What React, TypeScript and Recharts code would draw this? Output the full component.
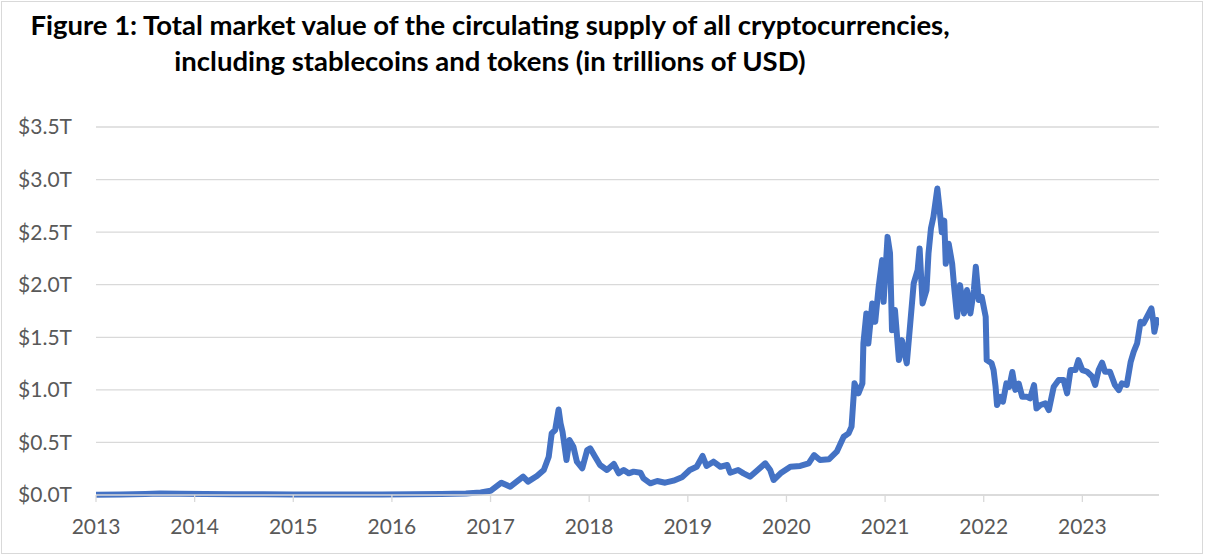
import React from "react";
import { CartesianGrid, Line, LineChart, XAxis, YAxis } from "recharts";

// position on the time axis, in years (as drawn against the year ticks)
const years = [
  2013.0, 2013.25, 2013.5, 2013.65, 2013.85, 2014.1, 2014.4, 2014.7, 2015.0, 2015.3,
  2015.6, 2015.9, 2016.2, 2016.5, 2016.75, 2016.9, 2017.0, 2017.11, 2017.2, 2017.33,
  2017.38, 2017.47, 2017.54, 2017.59, 2017.62, 2017.655, 2017.69, 2017.71, 2017.73, 2017.77,
  2017.8, 2017.84, 2017.875, 2017.93, 2017.98, 2018.01, 2018.06, 2018.11, 2018.18, 2018.25,
  2018.3, 2018.35, 2018.4, 2018.45, 2018.52, 2018.55, 2018.62, 2018.69, 2018.77, 2018.855,
  2018.94, 2019.02, 2019.09, 2019.15, 2019.19, 2019.26, 2019.33, 2019.4, 2019.43, 2019.51,
  2019.565, 2019.63, 2019.7, 2019.785, 2019.835, 2019.87, 2019.94, 2020.04, 2020.14, 2020.225,
  2020.28, 2020.34, 2020.43, 2020.51, 2020.58, 2020.63, 2020.66, 2020.69, 2020.73, 2020.77,
  2020.78, 2020.81, 2020.83, 2020.87, 2020.9, 2020.935, 2020.97, 2020.985, 2021.025, 2021.05,
  2021.07, 2021.1, 2021.14, 2021.17, 2021.22, 2021.255, 2021.29, 2021.33, 2021.35, 2021.38,
  2021.42, 2021.44, 2021.465, 2021.49, 2021.53, 2021.55, 2021.575, 2021.6, 2021.615, 2021.645,
  2021.68, 2021.7, 2021.73, 2021.76, 2021.8, 2021.83, 2021.865, 2021.9, 2021.92, 2021.95,
  2021.98, 2022.02, 2022.03, 2022.08, 2022.1, 2022.12, 2022.135, 2022.17, 2022.195, 2022.23,
  2022.26, 2022.29, 2022.32, 2022.355, 2022.39, 2022.44, 2022.47, 2022.51, 2022.535, 2022.575,
  2022.625, 2022.66, 2022.71, 2022.76, 2022.81, 2022.845, 2022.88, 2022.93, 2022.96, 2023.0,
  2023.05, 2023.1, 2023.13, 2023.165, 2023.2, 2023.23, 2023.28, 2023.33, 2023.37, 2023.4,
  2023.45, 2023.49, 2023.52, 2023.555, 2023.59, 2023.62, 2023.655, 2023.7, 2023.72, 2023.73,
  2023.755, 2023.775,
];

// total market value, trillions of USD
const marketCap = [
  0.003, 0.004, 0.01, 0.014, 0.012, 0.01, 0.008, 0.007, 0.005, 0.004,
  0.004, 0.005, 0.007, 0.01, 0.014, 0.025, 0.04, 0.117, 0.079, 0.174,
  0.127, 0.18, 0.238, 0.364, 0.586, 0.618, 0.814, 0.68, 0.6, 0.333,
  0.523, 0.459, 0.317, 0.254, 0.428, 0.444, 0.364, 0.285, 0.238, 0.295,
  0.206, 0.238, 0.206, 0.222, 0.212, 0.158, 0.111, 0.133, 0.117, 0.136,
  0.168, 0.238, 0.269, 0.371, 0.276, 0.317, 0.269, 0.285, 0.212, 0.238,
  0.206, 0.174, 0.231, 0.301, 0.238, 0.143, 0.206, 0.269, 0.276, 0.301,
  0.38, 0.333, 0.339, 0.412, 0.554, 0.586, 0.65, 1.062, 0.967, 1.062,
  1.44, 1.727, 1.44, 1.822, 1.647, 1.98, 2.234, 1.837, 2.455, 2.3,
  1.568, 1.759, 1.283, 1.473, 1.252, 1.632, 2.012, 2.139, 2.345, 1.822,
  1.949, 2.297, 2.535, 2.645, 2.915, 2.74, 2.5, 2.61, 2.2, 2.39,
  2.2, 1.98, 1.695, 1.996, 1.727, 1.949, 1.727, 1.949, 2.17, 1.854,
  1.885, 1.695, 1.283, 1.252, 1.188, 1.03, 0.856, 0.934, 0.887, 1.062,
  1.03, 1.17, 1.0, 1.06, 0.934, 0.934, 0.919, 1.046, 0.824, 0.856,
  0.872, 0.808, 1.03, 1.093, 1.093, 0.967, 1.188, 1.188, 1.283, 1.188,
  1.172, 1.125, 1.046, 1.188, 1.258, 1.172, 1.172, 1.046, 0.998, 1.062,
  1.046, 1.267, 1.362, 1.442, 1.647, 1.632, 1.695, 1.775, 1.647, 1.552,
  1.664, 1.647,
];

const yearTicks = [2013, 2014, 2015, 2016, 2017, 2018, 2019, 2020, 2021, 2022, 2023];
const valueTicks = [0, 0.5, 1, 1.5, 2, 2.5, 3, 3.5];

const titleLines = [
  "Figure 1: Total market value of the circulating supply of all cryptocurrencies,",
  "including stablecoins and tokens (in trillions of USD)",
];

const data = years.map((t, i) => ({ t, v: marketCap[i] }));

const axisFont = { fontFamily: "Lato, sans-serif", fontSize: 21, fill: "#595959" };

export default function App() {
  return (
    <div
      style={{
        position: "absolute",
        left: 0,
        top: 0,
        width: 1212,
        height: 555,
        background: "#fff",
      }}
    >
      <div
        style={{
          position: "absolute",
          left: 1,
          top: 1,
          width: 1200,
          height: 551,
          border: "1px solid #d9d9d9",
        }}
      />
      <div
        style={{
          position: "absolute",
          left: 0,
          top: 7,
          width: 980,
          textAlign: "center",
          fontFamily: "Lato, sans-serif",
          fontWeight: 700,
          fontSize: 27.5,
          lineHeight: "36px",
          color: "#000",
          whiteSpace: "nowrap",
        }}
      >
        {titleLines.map((l) => (
          <div key={l}>{l}</div>
        ))}
      </div>
      <div style={{ position: "absolute", left: 0, top: 0 }}>
        <LineChart
          width={1212}
          height={555}
          data={data}
          margin={{ top: 127, right: 53, bottom: 30, left: 8 }}
        >
          <CartesianGrid vertical={false} stroke="#d9d9d9" strokeWidth={1.3} />
          <XAxis
            dataKey="t"
            type="number"
            domain={[2013, 2023.777]}
            ticks={yearTicks}
            allowDataOverflow
            height={30}
            tick={axisFont}
            tickSize={7}
            tickMargin={17}
            tickLine={{ stroke: "#d9d9d9", strokeWidth: 1.3 }}
            axisLine={{ stroke: "#d9d9d9", strokeWidth: 1.3 }}
          />
          <YAxis
            type="number"
            domain={[0, 3.5]}
            ticks={valueTicks}
            width={88}
            tick={axisFont}
            tickSize={0}
            tickMargin={24}
            axisLine={false}
            tickLine={false}
            tickFormatter={(v: number) => `$${v.toFixed(1)}T`}
          />
          <Line
            type="linear"
            dataKey="v"
            stroke="#4472c4"
            strokeWidth={6}
            strokeLinejoin="round"
            strokeLinecap="round"
            dot={false}
            activeDot={false}
            isAnimationActive={false}
          />
        </LineChart>
      </div>
    </div>
  );
}
